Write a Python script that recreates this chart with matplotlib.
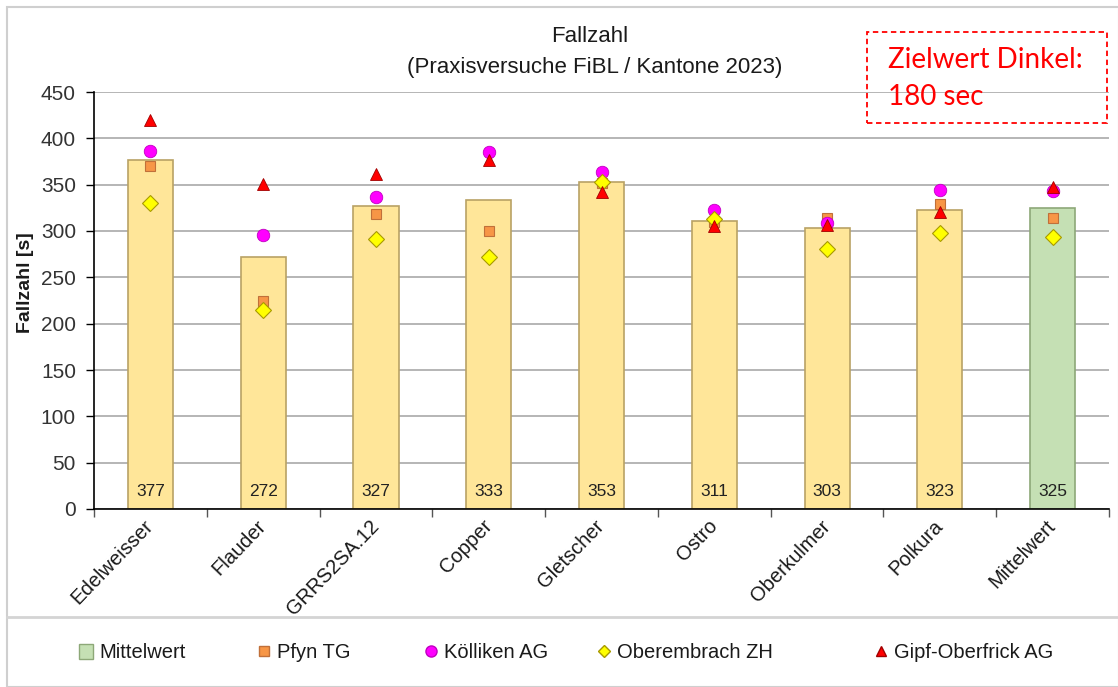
import matplotlib
matplotlib.use("Agg")
import matplotlib.pyplot as plt
from matplotlib.lines import Line2D
from matplotlib.patches import Patch, Rectangle
import numpy as np

plt.rcParams['font.family'] = ['Liberation Sans', 'DejaVu Sans']

categories = ["Edelweisser", "Flauder", "GRRS2SA.12", "Copper", "Gletscher",
              "Ostro", "Oberkulmer", "Polkura", "Mittelwert"]
bar_values = [377, 272, 327, 333, 353, 311, 303, 323, 325]
pfyn = [370, 225, 318, 300, 352, 310, 314, 329, 314]
koelliken = [386, 296, 337, 385, 364, 323, 309, 344, 343]
oberembrach = [330, 215, 291, 272, 353, 313, 281, 298, 294]
gipf = [420, 351, 361, 377, 342, 305, 307, 320, 348]
yticks = [0, 50, 100, 150, 200, 250, 300, 350, 400, 450]

W, H = 1118, 687
fig = plt.figure(figsize=(W / 100, H / 100), dpi=100)

# outer frame and legend separator
fig.patches.append(Rectangle((7 / W, 0), (W - 6) / W, 1 - 7 / H, transform=fig.transFigure,
                             fill=False, edgecolor='#cfcfcf', lw=1.5))
fig.lines.append(Line2D([7 / W, 1], [1 - 617 / H, 1 - 617 / H], transform=fig.transFigure,
                        color='#d4d4d4', lw=2))

ax = fig.add_axes([94 / W, 1 - 509 / H, (1109 - 94) / W, (509 - 92) / H])
x = np.arange(len(categories))
bar_face = ['#FFE699'] * (len(categories) - 1) + ['#C5E0B4']
bar_edge = ['#B9A265'] * (len(categories) - 1) + ['#8DA878']
ax.bar(x, bar_values, width=0.4, color=bar_face, edgecolor=bar_edge, linewidth=1.2, zorder=2)

ax.plot(x, pfyn, ls='none', marker='s', ms=7.5, mfc='#F79646', mec='#C0703A', mew=0.8, zorder=3)
ax.plot(x, koelliken, ls='none', marker='o', ms=9, mfc='#FF00FF', mec='#C000C0', mew=0.6, zorder=4)
ax.plot(x, oberembrach, ls='none', marker='D', ms=8, mfc='#FFFF00', mec='#A89A00', mew=0.8, zorder=5)
ax.plot(x, gipf, ls='none', marker='^', ms=9, mfc='#FF0000', mec='#A00000', mew=0.6, zorder=6)

for xi, v in zip(x, bar_values):
    ax.annotate(f"{v}", xy=(xi, 0), xytext=(0, 12.5), textcoords='offset points',
                ha='center', va='center', fontsize=12.5, color='#222222', zorder=7)

ax.set_xlim(-0.5, len(categories) - 0.5)
ax.set_ylim(0, 450)
ax.set_yticks(yticks)
ax.set_yticklabels([str(t) for t in yticks], fontsize=15, color='#333333')
ax.yaxis.grid(True, color='#b0b0b0', lw=1.3, zorder=0)
ax.set_axisbelow(True)
ax.tick_params(axis='y', length=6, width=1, pad=7, color='black')

ax.set_xticks(x)
ax.set_xticklabels(categories, rotation=46, ha='right', va='center',
                   rotation_mode='anchor', fontsize=14.5, color='#1a1a1a')
ax.tick_params(axis='x', which='major', length=0, pad=10)
ax.set_xticks(np.arange(-0.5, len(categories), 1.0), minor=True)
ax.tick_params(axis='x', which='minor', length=6, width=1, color='#555555')

for s in ['top', 'right']:
    ax.spines[s].set_visible(False)
ax.spines['left'].set_linewidth(1.2)
ax.spines['bottom'].set_linewidth(1.2)

fig.text(590 / W, 1 - 37 / H, "Fallzahl", ha='center', va='center', fontsize=16, color='#1a1a1a')
fig.text(595 / W, 1 - 68 / H, "(Praxisversuche FiBL / Kantone 2023)", ha='center', va='center',
         fontsize=16, color='#1a1a1a')
fig.text(25 / W, 1 - 283 / H, "Fallzahl [s]", rotation=90, ha='center', va='center',
         fontsize=14, fontweight='bold', color='#1a1a1a')

# red dashed target box
fig.patches.append(Rectangle((867 / W, 1 - 123 / H), (1107 - 867) / W, (123 - 32) / H,
                             transform=fig.transFigure, fill=False, edgecolor='#FF0000',
                             lw=1.3, ls=(0, (3, 2))))
fig.text(888 / W, 1 - 60 / H, "Zielwert Dinkel:", ha='left', va='center', fontsize=20,
         color='#FF0000', family=['Lato', 'DejaVu Sans'])
fig.text(888 / W, 1 - 97 / H, "180 sec", ha='left', va='center', fontsize=20,
         color='#FF0000', family=['Lato', 'DejaVu Sans'])

# legend entries
entries = [
    (87, Patch(facecolor='#C5E0B4', edgecolor='#8DA878'), "Mittelwert"),
    (265, Line2D([], [], ls='none', marker='s', ms=7, mfc='#F79646', mec='#C0703A'), "Pfyn TG"),
    (432, Line2D([], [], ls='none', marker='o', ms=8, mfc='#FF00FF', mec='#C000C0'), "Kölliken AG"),
    (605, Line2D([], [], ls='none', marker='D', ms=6, mfc='#FFFF00', mec='#A89A00'), "Oberembrach ZH"),
    (882, Line2D([], [], ls='none', marker='^', ms=7, mfc='#FF0000', mec='#A00000'), "Gipf-Oberfrick AG"),
]
for xp, h, lab in entries:
    leg = fig.legend([h], [lab], loc='center left', bbox_to_anchor=((xp - 8) / W, 1 - 653 / H),
                     frameon=False, fontsize=14.5, handlelength=0.7, handleheight=0.7,
                     handletextpad=0.3, borderpad=0, borderaxespad=0)
    for t in leg.get_texts():
        t.set_color('#1a1a1a')

fig.savefig("out.png", dpi=100)
